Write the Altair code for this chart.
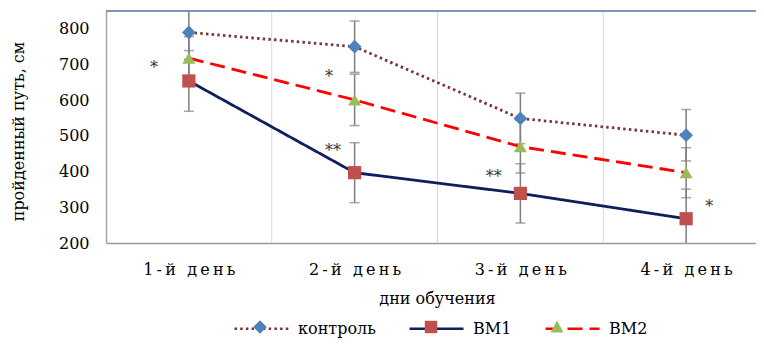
import altair as alt
import pandas as pd

# ---------------- data ----------------
days = ["1-й день", "2-й день", "3-й день", "4-й день"]
series_names = ["контроль", "BM1", "BM2"]
control = [790, 750, 549, 502]
control_err = [75, 72, 71, 72]
bm1 = [654, 397, 339, 268]
bm1_err = [85, 84, 83, 83]
bm2 = [718, 601, 470, 397]
bm2_err = [60, 72, 74, 70]
y_ticks = [200, 300, 400, 500, 600, 700, 800]
grid_x = [1, 2, 3]
star_text = ["*", "*", "**", "**", "*"]
star_x = [0.29, 1.345, 1.37, 2.34, 3.64]
star_y = [705, 678, 473, 398, 314]

# ---------------- style ----------------
FONT = "DejaVu Serif"
W, H = 650, 232
BAND = 165.75
line_colors = ["#7B3535", "#0F1F5C", "#FF0000"]
line_dash = [[2.5, 3.2], [1, 0], [15, 7]]
marker_colors = ["#4F81BD", "#C0504D", "#9BBB59"]
marker_shapes = ["diamond", "square", "triangle-up"]
marker_sizes = [190, 175, 170]
legend_paths = [
    "M-1,0M1,0M-0.25,0L0,-0.25L0.25,0L0,0.25Z",
    "M-1,0M1,0M-0.23,-0.23L0.23,-0.23L0.23,0.23L-0.23,0.23Z",
    "M-1,0M1,0M0,-0.24L0.24,0.2L-0.24,0.2Z",
]
# x of each marker-legend symbol's left edge (plot coords), over the line-legend symbols
marker_leg_x = [127, 298, 424]
LEG_Y = 289

rows = []
for name, vals, errs in [("контроль", control, control_err), ("BM1", bm1, bm1_err), ("BM2", bm2, bm2_err)]:
    for i, (v, e) in enumerate(zip(vals, errs)):
        rows.append({"series": name, "pos": i + 0.5, "day": days[i],
                     "value": v, "lo": v - e, "hi": v + e})
df = pd.DataFrame(rows)
grid_df = pd.DataFrame({"gx": grid_x})
stars_df = pd.DataFrame({"t": star_text, "sx": star_x, "sy": star_y})

label_expr = " : ".join(
    [f"datum.value == {i + 0.5} ? '{chr(0x2009).join(list(d))}'" for i, d in enumerate(days)]
) + " : ''"

xscale = alt.Scale(domain=[0, W / BAND], nice=False, zero=False)
xaxis = alt.Axis(values=[0.5, 1.5, 2.5, 3.5], labelExpr=label_expr, ticks=False, tickSize=0,
                 grid=False, domainColor="#9A9A9A", domainWidth=1.5, labelFont=FONT,
                 labelFontSize=16, labelColor="#000000", labelPadding=18,
                 titleFont=FONT, titleFontSize=16, titleFontWeight="normal", titleColor="#000000",
                 titleX=331, titleY=55, titleBaseline="middle", titleAlign="center",
                 titleAnchor="start")
yscale = alt.Scale(domain=[200, 850], nice=False, zero=False)
yaxis = alt.Axis(values=y_ticks, ticks=False, tickSize=0, grid=False, domainColor="#A6A6A6",
                 domainWidth=1.5, labelFont=FONT, labelFontSize=16, labelColor="#000000",
                 labelPadding=17, titleFont=FONT, titleFontSize=16, titleFontWeight="normal",
                 titleColor="#000000", titleX=-88, titleY=120, titleAngle=270,
                 titleBaseline="middle", titleAlign="center", titleAnchor="start")


def X(field):
    return alt.X(field, type="quantitative", scale=xscale, axis=xaxis, title="дни обучения")


def Y(field):
    return alt.Y(field, type="quantitative", scale=yscale, axis=yaxis, title="пройденный путь, см")


leg_lines = alt.Legend(orient="none", legendX=127, legendY=LEG_Y, direction="horizontal", columns=3,
                       title=None, symbolSize=2916, labelFont=FONT, labelFontSize=16,
                       labelOffset=8, columnPadding=28, padding=0, rowPadding=0,
                       symbolType="stroke", symbolStrokeWidth=2.5, labelColor="#000000")

grid = alt.Chart(grid_df).mark_rule(color="#D9D9D9", strokeWidth=1).encode(x=X("gx"))
top_border = alt.Chart(grid_df).mark_rule(color="#7F93BA", strokeWidth=1.5).encode(
    x=alt.value(0), x2=alt.value(W), y=alt.value(0))

err_rule = alt.Chart(df).mark_rule(color="#7F7F7F", strokeWidth=1.5, clip=True).encode(
    x=X("pos"), y=Y("lo"), y2="hi")
err_lo = alt.Chart(df).mark_tick(color="#7F7F7F", thickness=1.5, size=10, orient="horizontal",
                                 clip=True).encode(x=X("pos"), y=Y("lo"))
err_hi = alt.Chart(df).mark_tick(color="#7F7F7F", thickness=1.5, size=10, orient="horizontal",
                                 clip=True).encode(x=X("pos"), y=Y("hi"))

lines = alt.Chart(df).mark_line(strokeWidth=2.8, strokeCap="butt").encode(
    x=X("pos"), y=Y("value"),
    color=alt.Color("series:N", scale=alt.Scale(domain=series_names, range=line_colors), legend=leg_lines),
    strokeDash=alt.StrokeDash("series:N", scale=alt.Scale(domain=series_names, range=line_dash), legend=leg_lines),
    order="pos:Q",
)

# one single-entry legend per series for the marker symbols, laid over the line symbols
legend_layers = []
for k, (name, col, path, lx) in enumerate(zip(series_names, marker_colors, legend_paths, marker_leg_x)):
    fld = f"mk{k}"
    sub = df[df["series"] == name].assign(**{fld: name})
    leg = alt.Legend(orient="none", legendX=lx, legendY=LEG_Y, title=None, symbolSize=2916,
                     labelExpr="''", labelFont=FONT, labelFontSize=16, labelOffset=0,
                     padding=0, rowPadding=0, symbolStrokeWidth=0, symbolOpacity=1)
    legend_layers.append(
        alt.Chart(sub).mark_point(filled=True, opacity=0).encode(
            x=X("pos"), y=Y("value"),
            fill=alt.Fill(f"{fld}:N", scale=alt.Scale(domain=[name], range=[col]), legend=leg),
            shape=alt.Shape(f"{fld}:N", scale=alt.Scale(domain=[name], range=[path]), legend=leg),
        )
    )

markers = []
for name, col, shp, sz in zip(series_names, marker_colors, marker_shapes, marker_sizes):
    markers.append(
        alt.Chart(df[df["series"] == name]).mark_point(filled=True, shape=shp, size=sz, color=col,
                                                        opacity=1).encode(x=X("pos"), y=Y("value"))
    )

stars = alt.Chart(stars_df).mark_text(font=FONT, fontSize=16, color="#333333", baseline="middle",
                                      dy=5).encode(x=X("sx"), y=Y("sy"), text="t:N")

chart = alt.layer(grid, top_border, err_rule, err_lo, err_hi, lines, *legend_layers, *markers, stars).resolve_scale(
    fill="independent", shape="independent"
).resolve_legend(
    fill="independent", shape="independent"
).properties(
    width=W, height=H, autosize="none",
    padding={"left": 98, "top": 3, "right": 0, "bottom": 96},
).configure_view(stroke=None).configure(background="#FFFFFF")

chart.save("out.html", embed_options={"renderer": "svg", "actions": False})
